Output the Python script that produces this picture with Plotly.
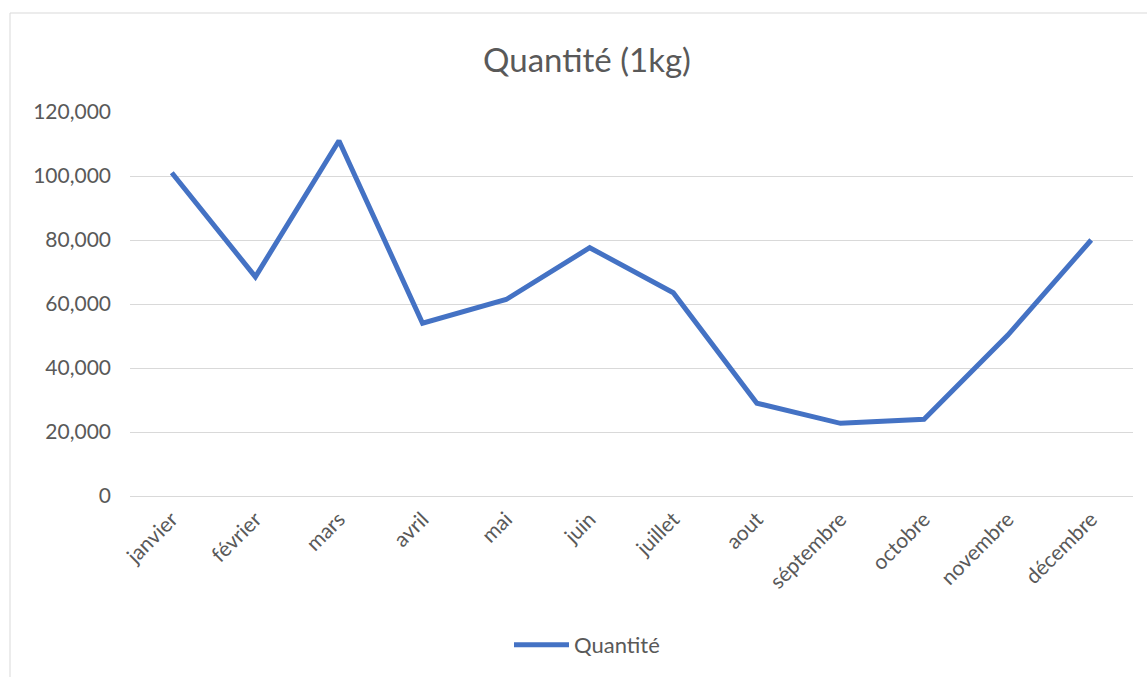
import plotly.graph_objects as go

months = ["janvier", "février", "mars", "avril", "mai", "juin", "juillet",
          "aout", "séptembre", "octobre", "novembre", "décembre"]
quantite = [101000, 68500, 111000, 54000, 61400, 77600, 63500,
            29000, 22700, 24000, 50200, 80000]
y_ticks = [0, 20000, 40000, 60000, 80000, 100000, 120000]
y_tick_labels = ["0", "20,000", "40,000", "60,000", "80,000", "100,000", "120,000"]

W, H = 1147, 677
L, R, T, B = 130, 14, 112, 181

fig = go.Figure()
fig.add_trace(go.Scatter(
    x=months, y=quantite, mode="lines", name="Quantité",
    line=dict(color="#4472C4", width=5, shape="linear"),
))

pw = W - L - R
ph = H - T - B

fig.update_layout(
    width=W, height=H,
    margin=dict(l=L, r=R, t=T, b=B, autoexpand=False),
    paper_bgcolor="white", plot_bgcolor="white",
    font=dict(family="Lato, 'Open Sans', sans-serif", color="#595959", size=21),
    title=dict(text="Quantité (1kg)", x=(587) / W, xanchor="center",
               y=1 - 60 / H, yanchor="middle",
               font=dict(size=33, color="#595959")),
    showlegend=True,
    legend=dict(orientation="h", x=(587 - L) / pw, xanchor="center",
                y=-(645 - (H - B)) / ph, yanchor="middle",
                font=dict(size=22, color="#595959"), itemwidth=55),
    xaxis=dict(type="category", tickangle=-45, showgrid=False, showline=False,
               range=[-0.5, len(months) - 0.5],
               ticks="", zeroline=False, ticklabelstandoff=6,
               tickfont=dict(size=21, color="#595959")),
    yaxis=dict(range=[0, 120000], tickvals=y_ticks, ticktext=y_tick_labels,
               showgrid=True, gridcolor="#D9D9D9", gridwidth=1,
               zeroline=True, zerolinecolor="#D9D9D9", zerolinewidth=1,
               showline=False, ticks="", ticklabelstandoff=18,
               tickfont=dict(size=21, color="#595959")),
    shapes=[dict(type="rect", xref="paper", yref="paper",
                 x0=(10 - L) / pw, x1=(W + 5 - L) / pw,
                 y0=-(H + 5 - (H - B)) / ph, y1=((H - B) - 13) / ph,
                 line=dict(color="#D9D9D9", width=1), layer="below")],
)

fig.write_html("out.html", config={"displayModeBar": False},
               post_script="document.body.style.margin='0';document.body.style.overflow='hidden';")
